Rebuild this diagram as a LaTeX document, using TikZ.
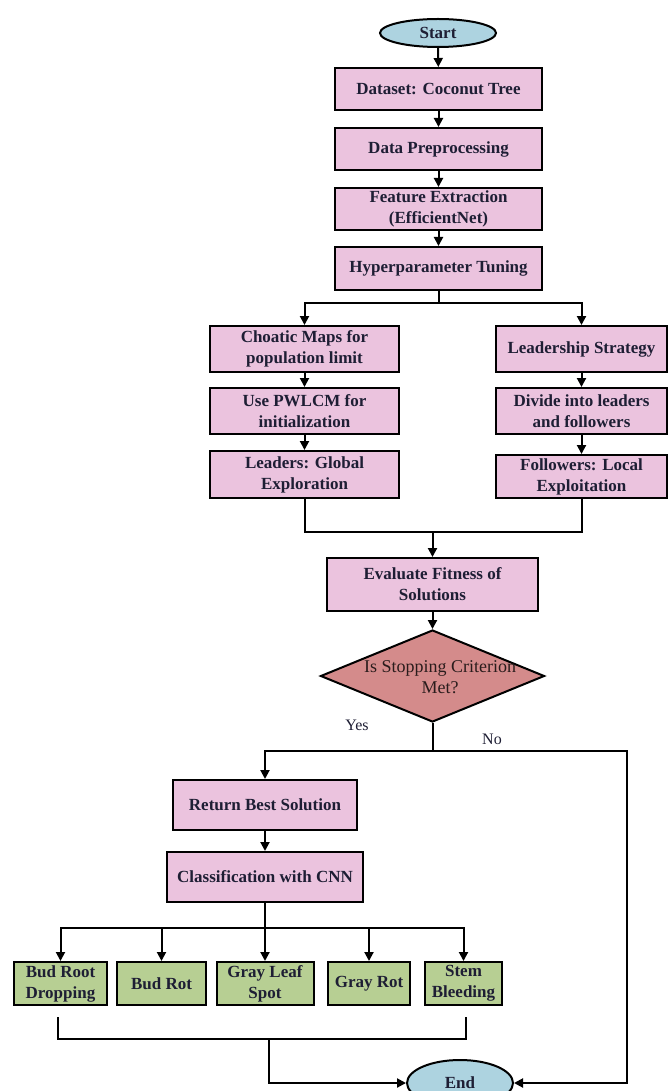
\documentclass[tikz,border=0pt]{standalone}
\usepackage{fontspec}
\setmainfont{Liberation Serif}
\usetikzlibrary{shapes.geometric,arrows.meta}
\definecolor{boxpink}{HTML}{EBC3DE}
\definecolor{boxgreen}{HTML}{B7CF93}
\definecolor{ovalblue}{HTML}{ADD3E0}
\definecolor{diared}{HTML}{D48B8B}
\definecolor{txt}{HTML}{1E1E34}
\tikzset{
  pbox/.style={draw=black, line width=2pt, fill=boxpink, rectangle, inner sep=0pt, align=center,
    text=txt, font=\fontsize{17}{21}\selectfont\bfseries},
  gbox/.style={draw=black, line width=2pt, fill=boxgreen, rectangle, inner sep=0pt, align=center,
    text=txt, font=\fontsize{17}{21}\selectfont\bfseries, minimum height=43pt},
  oval/.style={draw=black, line width=2pt, fill=ovalblue, ellipse, inner sep=0pt,
    text=txt, font=\fontsize{17}{21}\selectfont\bfseries},
  dia/.style={draw=black, line width=2pt, fill=diared, diamond, inner sep=0pt,
    minimum width=224pt, minimum height=92pt},
  dtext/.style={text=black!80!diared, align=center, font=\fontsize{18}{21}\selectfont},
  lbl/.style={text=txt, font=\fontsize{16}{20}\selectfont},
  line/.style={draw=black, line width=2pt},
  arr/.style={line, -{Triangle[length=9pt,width=9pt]}},
}
\begin{document}
\begin{tikzpicture}[x=1pt,y=-1pt]
\clip (0,0) rectangle (671,1091);
\fill[white] (0,0) rectangle (671,1091);
% top column
\node[oval, minimum width=116pt, minimum height=28pt] (start) at (438,33) {Start};
\node[pbox, minimum width=207pt, minimum height=42pt] (ds) at (438.5,89) {Dataset: Coconut Tree};
\node[pbox, minimum width=207pt, minimum height=42pt] (dp) at (438.5,149) {Data Preprocessing};
\node[pbox, minimum width=207pt, minimum height=42pt] (fe) at (438.5,209) {Feature Extraction\\(EfficientNet)};
\node[pbox, minimum width=207pt, minimum height=43pt] (hp) at (438.5,268.5) {Hyperparameter Tuning};
% left column
\node[pbox, minimum width=189pt, minimum height=46pt] (c1) at (304.5,349) {Choatic Maps for\\population limit};
\node[pbox, minimum width=189pt, minimum height=46pt] (c2) at (304.5,411) {Use PWLCM for\\initialization};
\node[pbox, minimum width=189pt, minimum height=47pt] (c3) at (304.5,474.5) {Leaders: Global\\Exploration};
% right column
\node[pbox, minimum width=171pt, minimum height=46pt] (r1) at (581.5,349) {Leadership Strategy};
\node[pbox, minimum width=171pt, minimum height=46pt] (r2) at (581.5,411) {Divide into leaders\\and followers};
\node[pbox, minimum width=171pt, minimum height=43pt] (r3) at (581.5,476.5) {Followers: Local\\Exploitation};
% evaluate and decision
\node[pbox, minimum width=211pt, minimum height=53pt] (ev) at (432.5,584.5) {Evaluate Fitness of\\Solutions};
\node[dia] (dq) at (432.5,676) {};
\node[dtext] (dqt) at (440,677) {Is Stopping Criterion\\Met?};
\node[lbl] (yes) at (357,725) {Yes};
\node[lbl] (no) at (492,739) {No};
% lower column
\node[pbox, minimum width=184pt, minimum height=50pt] (rb) at (265,805) {Return Best Solution};
\node[pbox, minimum width=196pt, minimum height=50pt] (cl) at (265,877) {Classification with CNN};
% classes
\node[gbox, minimum width=93pt] (g1) at (60.5,983.5) {Bud Root\\Dropping};
\node[gbox, minimum width=89pt] (g2) at (161.5,983.5) {Bud Rot};
\node[gbox, minimum width=97pt] (g3) at (265,983.5) {Gray Leaf\\Spot};
\node[gbox, minimum width=82pt] (g4) at (369,983.5) {Gray Rot};
\node[gbox, minimum width=77pt] (g5) at (463.5,983.5) {Stem\\Bleeding};
\node[oval, minimum width=106pt, minimum height=46pt] (end) at (460,1083) {End};
% coordinates
\coordinate (b1) at (438.5,303);
\coordinate (m1) at (432.5,532);
\coordinate (y0) at (432.5,751);
\coordinate (n1) at (627,751);
\coordinate (cb) at (265,928);
\coordinate (kL) at (58,1017);
\coordinate (kR) at (466,1017);
\coordinate (kM) at (269,1039);
% connectors
\draw[arr] (start) -- (ds);
\draw[arr] (ds) -- (dp);
\draw[arr] (dp) -- (fe);
\draw[arr] (fe) -- (hp);
\draw[line] (hp.south) -- (b1);
\draw[arr] (b1) -| (c1.north);
\draw[arr] (b1) -| (r1.north);
\draw[arr] (c1) -- (c2);
\draw[arr] (c2) -- (c3);
\draw[arr] (r1) -- (r2);
\draw[arr] (r2) -- (r3);
\draw[line] (c3.south) |- (m1);
\draw[line] (r3.south) |- (m1);
\draw[arr] (m1) -- (ev.north);
\draw[arr] (ev.south) -- (dq.north);
\draw[line] (dq.south) -- (y0);
\draw[arr] (y0) -| (rb.north);
\draw[arr] (y0) -- (n1) |- (end.east);
\draw[arr] (rb) -- (cl);
\draw[line] (cl.south) -- (cb);
\draw[arr] (cb) -| (g1.north);
\draw[arr] (cb) -| (g2.north);
\draw[arr] (cb) -- (g3.north);
\draw[arr] (cb) -| (g4.north);
\draw[arr] (cb) -| (g5.north);
\draw[line] (kL) |- (kM) -| (kR);
\draw[arr] (kM) |- (end.west);
\end{tikzpicture}
\end{document}
